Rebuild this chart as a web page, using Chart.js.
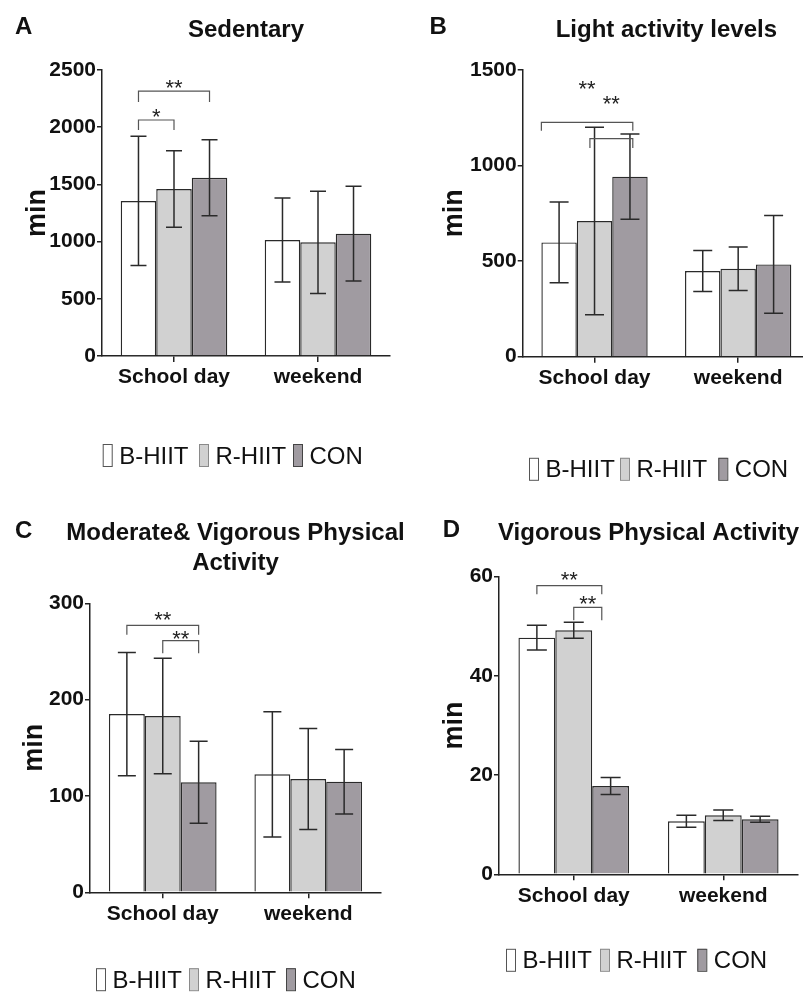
<!DOCTYPE html>
<html>
<head>
<meta charset="utf-8">
<script src="https://cdn.jsdelivr.net/npm/chart.js@4.4.0/dist/chart.umd.min.js"></script>
<style>
  html, body { margin: 0; padding: 0; width: 803px; height: 992px; overflow: hidden; background: #fff; }
  canvas { position: absolute; }
</style>
</head>
<body>
<canvas id="chartA" width="400" height="496" style="left:0;top:0"></canvas>
<canvas id="chartB" width="420" height="496" style="left:400px;top:0"></canvas>
<canvas id="chartC" width="420" height="496" style="left:0;top:496px"></canvas>
<canvas id="chartD" width="420" height="496" style="left:400px;top:496px"></canvas>
<script>
const groups = ["School day", "weekend"];
const seriesNames = ["B-HIIT", "R-HIIT", "CON"];

// A - Sedentary (mean, SD in min)
const sedBHIIT = [1355, 1014];
const sedRHIIT = [1460, 994];
const sedCON = [1558, 1069];
const sedBHIITsd = [565, 368];
const sedRHIITsd = [334, 447];
const sedCONsd = [333, 414];
const sedTicks = [0, 500, 1000, 1500, 2000, 2500];
const sedSig = [[0, 1, 2063, "*"], [0, 2, 2316, "**"]];

// B - Light activity
const lightBHIIT = [598, 448];
const lightRHIIT = [710, 460];
const lightCON = [942, 483];
const lightBHIITsd = [211, 107];
const lightRHIITsd = [491, 114];
const lightCONsd = [223, 256];
const lightTicks = [0, 500, 1000, 1500];
const lightSig = [[0, 2, 1226, "**"], [1, 2, 1141, "**"]];

// C - MVPA
const mvpaBHIIT = [185, 122.5];
const mvpaRHIIT = [183, 117.6];
const mvpaCON = [114.2, 114.8];
const mvpaBHIITsd = [64, 65];
const mvpaRHIITsd = [60, 52.4];
const mvpaCONsd = [42.5, 33.4];
const mvpaTicks = [0, 100, 200, 300];
const mvpaSig = [[0, 2, 277, "**"], [1, 2, 261.2, "**"]];

// D - VPA
const vpaBHIIT = [47.7, 10.7];
const vpaRHIIT = [49.2, 11.9];
const vpaCON = [17.8, 11.1];
const vpaBHIITsd = [2.5, 1.2];
const vpaRHIITsd = [1.6, 1.05];
const vpaCONsd = [1.7, 0.6];
const vpaTicks = [0, 20, 40, 60];
const vpaSig = [[0, 2, 58.2, "**"], [1, 2, 53.8, "**"]];

const fills = ["#ffffff", "#d1d1d1", "#a09ba1"];
const legendBorders = ["#555555", "#8a8a8a", "#444444"];
const FONT = '"Liberation Sans", Arial, sans-serif';

// page-coordinate layout of each panel
const panels = [
  {
    id: "chartA", left: 0, top: 0, w: 400, h: 496,
    area: { l: 102, r: 390, t: 70, b: 356 },
    letter: ["A", 15, 33.5], title: ["Sedentary"], titleY: 37,
    legendXs: [102.7, 199, 293], legendY: 463.5, titlePad: 21, cap: 16,
    means: [sedBHIIT, sedRHIIT, sedCON], errs: [sedBHIITsd, sedRHIITsd, sedCONsd],
    ticks: sedTicks, sig: sedSig,
    sigStyle: [{ s1: 0, s2: 0, drop: 10, dy: -7 }, { s1: 0, s2: 0, drop: 11, dy: -7 }]
  },
  {
    id: "chartB", left: 400, top: 0, w: 420, h: 496,
    area: { l: 522.7, r: 810, t: 70, b: 356.7 },
    letter: ["B", 429.5, 33.5], title: ["Light activity levels"], titleY: 37,
    legendXs: [529, 620, 718.3], legendY: 477.3, titlePad: 38, cap: 19,
    means: [lightBHIIT, lightRHIIT, lightCON], errs: [lightBHIITsd, lightRHIITsd, lightCONsd],
    ticks: lightTicks, sig: lightSig,
    sigStyle: [{ s1: -0.5, s2: 0.08, drop: 8.5, dy: -37 }, { s1: -0.13, s2: 0.08, drop: 9.5, dy: -39 }]
  },
  {
    id: "chartC", left: 0, top: 496, w: 420, h: 496,
    area: { l: 90, r: 381, t: 603.3, b: 892.3 },
    letter: ["C", 15, 538.3], title: ["Moderate& Vigorous Physical", "Activity"], titleY: 540,
    legendXs: [96, 189, 286], legendY: 987.7, titlePad: 18.5, cap: 18,
    means: [mvpaBHIIT, mvpaRHIIT, mvpaCON], errs: [mvpaBHIITsd, mvpaRHIITsd, mvpaCONsd],
    ticks: mvpaTicks, sig: mvpaSig,
    sigStyle: [{ s1: 0, s2: 0, drop: 9.3, dy: -9 }, { s1: 0, s2: 0, drop: 12.6, dy: -5.7 }]
  },
  {
    id: "chartD", left: 400, top: 496, w: 420, h: 496,
    area: { l: 499, r: 798, t: 576.7, b: 874.3 },
    letter: ["D", 442.7, 537], title: ["Vigorous Physical Activity"], titleY: 540,
    legendXs: [506, 600, 697.3], legendY: 968.3, titlePad: 38, cap: 20,
    means: [vpaBHIIT, vpaRHIIT, vpaCON], errs: [vpaBHIITsd, vpaRHIITsd, vpaCONsd],
    ticks: vpaTicks, sig: vpaSig,
    sigStyle: [{ s1: 0, s2: -0.24, drop: 8.7, dy: -10 }, { s1: 0, s2: -0.24, drop: 12.7, dy: -7 }]
  }
];

const X_AXIS_H = 40;

function makeExtras(p) {
  return {
    id: "extras",
    afterDatasetsDraw(chart) {
      const ctx = chart.ctx;
      const y = chart.scales.y;
      ctx.save();
      // error bars (mean +/- SD)
      ctx.strokeStyle = "#2a2a2a";
      ctx.lineWidth = 1.5;
      chart.data.datasets.forEach((ds, i) => {
        chart.getDatasetMeta(i).data.forEach((bar, j) => {
          const hi = y.getPixelForValue(ds.data[j] + ds.errors[j]);
          const lo = y.getPixelForValue(ds.data[j] - ds.errors[j]);
          const half = p.cap / 2;
          ctx.beginPath();
          ctx.moveTo(bar.x, hi); ctx.lineTo(bar.x, lo);
          ctx.moveTo(bar.x - half, hi); ctx.lineTo(bar.x + half, hi);
          ctx.moveTo(bar.x - half, lo); ctx.lineTo(bar.x + half, lo);
          ctx.stroke();
        });
      });
      // significance brackets
      ctx.strokeStyle = "#555";
      ctx.lineWidth = 1.2;
      ctx.fillStyle = "#222";
      ctx.font = "22px " + FONT;
      ctx.textAlign = "center";
      ctx.textBaseline = "alphabetic";
      p.sig.forEach((s, k) => {
        const st = p.sigStyle[k];
        const b1 = chart.getDatasetMeta(s[0]).data[0];
        const b2 = chart.getDatasetMeta(s[1]).data[0];
        const x1 = b1.x + st.s1 * b1.width;
        const x2 = b2.x + st.s2 * b2.width;
        const yl = y.getPixelForValue(s[2]);
        ctx.beginPath();
        ctx.moveTo(x1, yl + st.drop);
        ctx.lineTo(x1, yl);
        ctx.lineTo(x2, yl);
        ctx.lineTo(x2, yl + st.drop);
        ctx.stroke();
        const m = ctx.measureText(s[3]);
        const base = yl + st.dy + (m.actualBoundingBoxAscent - m.actualBoundingBoxDescent) / 2;
        ctx.fillText(s[3], (x1 + x2) / 2, base);
      });
      ctx.restore();
    },
    afterDraw(chart) {
      const ctx = chart.ctx;
      const area = chart.chartArea;
      ctx.save();
      ctx.fillStyle = "#111";
      ctx.textBaseline = "alphabetic";
      // panel letter
      ctx.font = "bold 24px " + FONT;
      ctx.textAlign = "left";
      ctx.fillText(p.letter[0], p.letter[1] - p.left, p.letter[2] - p.top);
      // title centred over plot area
      ctx.textAlign = "center";
      p.title.forEach((line, i) => {
        ctx.fillText(line, (area.left + area.right) / 2, p.titleY - p.top + i * 30);
      });
      // legend
      ctx.font = "24px " + FONT;
      ctx.textAlign = "left";
      seriesNames.forEach((name, i) => {
        const bx = p.legendXs[i] - p.left;
        const by = p.legendY - p.top - 19.5;
        ctx.fillStyle = fills[i];
        ctx.fillRect(bx, by, 9, 22);
        ctx.strokeStyle = legendBorders[i];
        ctx.lineWidth = 1;
        ctx.strokeRect(bx + 0.5, by + 0.5, 9, 22);
        ctx.fillStyle = "#111";
        ctx.fillText(name, bx + 16.5, p.legendY - p.top);
      });
      ctx.restore();
    }
  };
}

panels.forEach((p) => {
  const datasets = seriesNames.map((name, i) => ({
    label: name,
    data: p.means[i],
    errors: p.errs[i],
    backgroundColor: fills[i],
    borderColor: "#2a2a2a",
    borderWidth: 1.4,
    categoryPercentage: 0.74,
    barPercentage: 1
  }));
  const tickFont = { family: FONT, size: 21, weight: "bold" };
  new Chart(document.getElementById(p.id), {
    type: "bar",
    data: { labels: groups, datasets },
    options: {
      responsive: false,
      animation: false,
      events: [],
      layout: {
        padding: {
          left: 0,
          top: p.area.t - p.top,
          right: p.left + p.w - p.area.r,
          bottom: p.top + p.h - p.area.b - X_AXIS_H
        }
      },
      plugins: {
        legend: { display: false },
        title: { display: false },
        tooltip: { enabled: false }
      },
      scales: {
        x: {
          afterFit: (scale) => { scale.height = X_AXIS_H; },
          grid: { offset: false, drawOnChartArea: false, drawTicks: true, tickLength: 6, color: "#222", lineWidth: 1.5 },
          border: { color: "#222", width: 1.5 },
          ticks: { color: "#111", font: tickFont, padding: 3 }
        },
        y: {
          min: p.ticks[0],
          max: p.ticks[p.ticks.length - 1],
          afterFit: (scale) => { scale.width = p.area.l - p.left; },
          afterBuildTicks: (scale) => { scale.ticks = p.ticks.map((v) => ({ value: v })); },
          grid: { drawOnChartArea: false, drawTicks: true, tickLength: 5, color: "#222", lineWidth: 1.5 },
          border: { color: "#222", width: 1.5 },
          ticks: { color: "#111", font: tickFont, padding: 1, callback: (v) => String(v) },
          title: {
            display: true,
            text: "min",
            color: "#111",
            font: { family: FONT, size: 27, weight: "bold" },
            padding: { top: p.titlePad, bottom: 0 }
          }
        }
      }
    },
    plugins: [makeExtras(p)]
  });
});
</script>
</body>
</html>
